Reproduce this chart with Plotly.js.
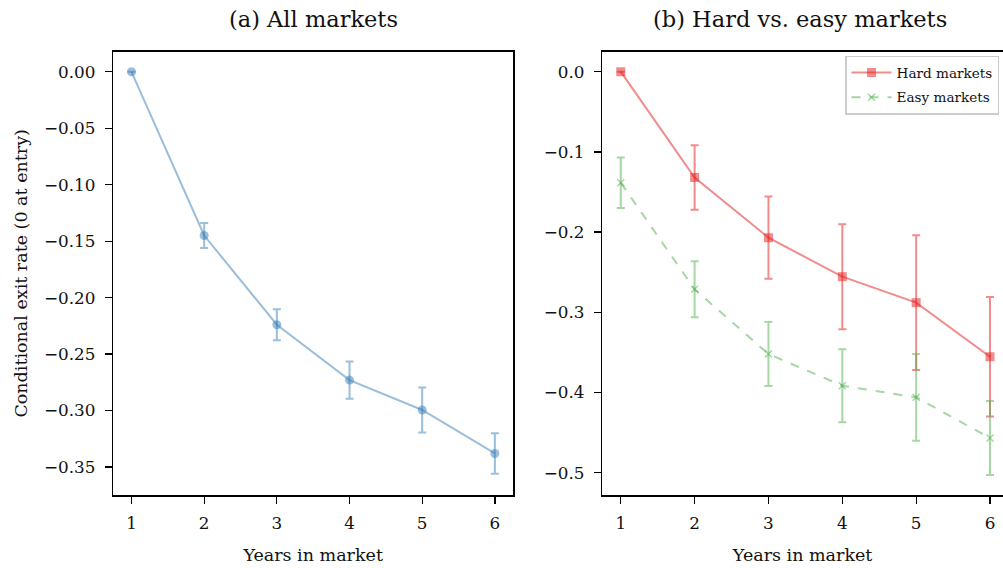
<!DOCTYPE html>
<html>
<head>
<meta charset="utf-8">
<script src="https://cdn.plot.ly/plotly-3.0.1.min.js"></script>
<style>html,body{margin:0;padding:0;background:#fff;}#chart{width:1003px;height:568px;}</style>
</head>
<body>
<div id="chart"></div>
<script>
// ---- data ----
var years = [1, 2, 3, 4, 5, 6];
var allMarkets = [0, -0.145, -0.224, -0.273, -0.2995, -0.338];
var allMarketsErr = [0, 0.011, 0.0137, 0.0165, 0.0199, 0.018];
var hardMarkets = [0, -0.132, -0.207, -0.2556, -0.288, -0.3554];
var hardMarketsErr = [0, 0.0403, 0.0513, 0.0655, 0.084, 0.0745];
var easyMarkets = [-0.1384, -0.2713, -0.352, -0.3915, -0.406, -0.4567];
var easyMarketsErr = [0.0315, 0.035, 0.04, 0.0455, 0.054, 0.046];
var leftTickVals = [0, -0.05, -0.10, -0.15, -0.20, -0.25, -0.30, -0.35];
var leftTickText = ['0.00', '\u22120.05', '\u22120.10', '\u22120.15', '\u22120.20', '\u22120.25', '\u22120.30', '\u22120.35'];
var rightTickVals = [0, -0.1, -0.2, -0.3, -0.4, -0.5];
var rightTickText = ['0.0', '\u22120.1', '\u22120.2', '\u22120.3', '\u22120.4', '\u22120.5'];
var xTickText = ['1', '2', '3', '4', '5', '6'];
var titleA = '(a) All markets';
var titleB = '(b) Hard vs. easy markets';
var xLabel = 'Years in market';
var yLabel = 'Conditional exit rate (0 at entry)';

// ---- style ----
var FONT = '"DejaVu Serif", "Liberation Serif", serif';
var blue = 'rgba(55,126,184,0.5)';
var red = 'rgba(228,26,28,0.5)';
var green = 'rgba(77,175,74,0.5)';
var TXT = '#111';

var traces = [
  {
    x: years, y: allMarkets, type: 'scatter', mode: 'lines+markers',
    xaxis: 'x', yaxis: 'y', showlegend: false, name: 'All markets',
    line: {color: blue, width: 2},
    marker: {color: blue, size: 9, symbol: 'circle'},
    error_y: {type: 'data', array: allMarketsErr, visible: true, color: blue, thickness: 2, width: 4}
  },
  {
    x: years, y: hardMarkets, type: 'scatter', mode: 'lines+markers',
    xaxis: 'x2', yaxis: 'y2', name: 'Hard markets', legendgroup: 'hard',
    line: {color: red, width: 2},
    marker: {color: red, size: 9, symbol: 'square'},
    error_y: {type: 'data', array: hardMarketsErr, visible: true, color: red, thickness: 2, width: 4}
  },
  {
    x: years, y: easyMarkets, type: 'scatter', mode: 'lines+markers',
    xaxis: 'x2', yaxis: 'y2', name: 'Easy markets', legendgroup: 'easy',
    line: {color: green, width: 2, dash: 'dash'},
    marker: {color: green, size: 7, symbol: 'x-thin', line: {color: green, width: 1.5}},
    error_y: {type: 'data', array: easyMarketsErr, visible: true, color: green, thickness: 2, width: 4}
  }
];

var axisCommon = {
  showgrid: false, zeroline: false, showline: true, linecolor: '#000', linewidth: 1.5,
  ticks: 'outside', ticklen: 7, tickwidth: 1.3, tickcolor: '#000',
  tickfont: {family: FONT, size: 16.8, color: TXT}
};
function ax(extra) { return Object.assign({}, axisCommon, extra); }

var layout = {
  width: 1003, height: 568,
  margin: {l: 0, r: 0, t: 0, b: 0},
  paper_bgcolor: '#fff', plot_bgcolor: '#fff',
  font: {family: FONT, color: TXT},
  xaxis: ax({domain: [0.113, 0.5115], range: [0.75, 6.25], tickvals: years, ticktext: xTickText, mirror: true, anchor: 'y',
    ticklabelstandoff: 5,
    title: {text: xLabel, font: {family: FONT, size: 17.5, color: TXT}, standoff: 17}}),
  yaxis: ax({domain: [0.1285, 0.909], range: [-0.3748, 0.0178], tickvals: leftTickVals, ticktext: leftTickText, mirror: true, anchor: 'x',
    ticklabelstandoff: 6,
    title: {text: yLabel, font: {family: FONT, size: 17.5, color: TXT}, standoff: 12}}),
  xaxis2: ax({domain: [0.6005, 1], range: [0.75, 6.176], tickvals: years, ticktext: xTickText, mirror: true, anchor: 'y2',
    ticklabelstandoff: 5,
    title: {text: xLabel, font: {family: FONT, size: 17.5, color: TXT}, standoff: 17}}),
  yaxis2: ax({domain: [0.1285, 0.909], range: [-0.5278, 0.0249], tickvals: rightTickVals, ticktext: rightTickText, mirror: false, anchor: 'x2',
    ticklabelstandoff: 6}),
  showlegend: true,
  legend: {
    x: 0.8425, y: 0.902, xanchor: 'left', yanchor: 'top',
    bgcolor: 'rgba(255,255,255,0.8)', bordercolor: '#cccccc', borderwidth: 1.5,
    font: {family: FONT, size: 13.6, color: TXT},
    traceorder: 'grouped', tracegroupgap: 4, itemwidth: 40
  },
  annotations: [
    {text: titleA, xref: 'paper', yref: 'paper', x: 0.3123, y: 0.967, xanchor: 'center', yanchor: 'middle', showarrow: false,
     font: {family: FONT, size: 22.5, color: TXT}},
    {text: titleB, xref: 'paper', yref: 'paper', x: 0.798, y: 0.967, xanchor: 'center', yanchor: 'middle', showarrow: false,
     font: {family: FONT, size: 22.5, color: TXT}}
  ]
};

Plotly.newPlot('chart', traces, layout, {displayModeBar: false, staticPlot: true});
</script>
</body>
</html>
